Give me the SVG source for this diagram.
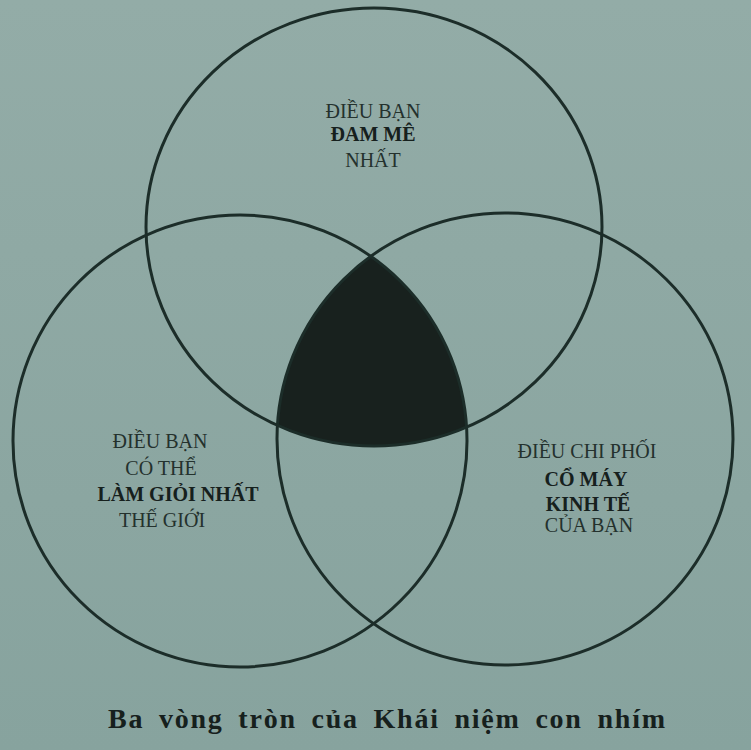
<svg xmlns="http://www.w3.org/2000/svg" width="751" height="750" viewBox="0 0 751 750">
<defs>
<style>
.ring{fill:none;stroke:#1c2d29;stroke-width:3}
.lbl{font-family:"Liberation Serif","DejaVu Serif",serif;font-size:20px;fill:#24312d;text-anchor:middle}
.b{font-weight:bold;fill:#16201d}
.cap{font-family:"Liberation Serif","DejaVu Serif",serif;font-size:28px;font-weight:bold;fill:#16201d;word-spacing:6px}
</style>
<linearGradient id="bg" x1="0" y1="0" x2="0" y2="1">
<stop offset="0" stop-color="#93aca7"/>
<stop offset="1" stop-color="#87a39e"/>
</linearGradient>
<clipPath id="cL"><ellipse cx="240" cy="441" rx="227" ry="226"/></clipPath>
<clipPath id="cR"><ellipse cx="505" cy="439" rx="228" ry="226"/></clipPath>
</defs>
<rect width="751" height="750" fill="url(#bg)"/>
<g id="core">
<g clip-path="url(#cL)"><g clip-path="url(#cR)">
<ellipse cx="374" cy="227" rx="228" ry="219" fill="#18211e"/>
</g></g>
</g>
<g id="connectors">
<ellipse id="circle-top" class="ring" cx="374" cy="227" rx="228" ry="219"/>
<ellipse id="circle-left" class="ring" cx="240" cy="441" rx="227" ry="226"/>
<ellipse id="circle-right" class="ring" cx="505" cy="439" rx="228" ry="226"/>
</g>
<g id="node-passion">
<text class="lbl" x="373" y="118">ĐIỀU BẠN</text>
<text class="lbl b" x="373" y="141">ĐAM MÊ</text>
<text class="lbl" x="373" y="167">NHẤT</text>
</g>
<g id="node-best">
<text class="lbl" x="160" y="448">ĐIỀU BẠN</text>
<text class="lbl" x="161" y="475">CÓ THỂ</text>
<text class="lbl b" x="178" y="501">LÀM GIỎI NHẤT</text>
<text class="lbl" x="162" y="527">THẾ GIỚI</text>
</g>
<g id="node-economic">
<text class="lbl" x="587" y="458">ĐIỀU CHI PHỐI</text>
<text class="lbl b" x="586" y="486">CỔ MÁY</text>
<text class="lbl b" x="588" y="511">KINH TẾ</text>
<text class="lbl" x="589" y="532">CỦA BẠN</text>
</g>
<text class="cap" x="108" y="728" textLength="557" lengthAdjust="spacing">Ba vòng tròn của Khái niệm con nhím</text>
</svg>
